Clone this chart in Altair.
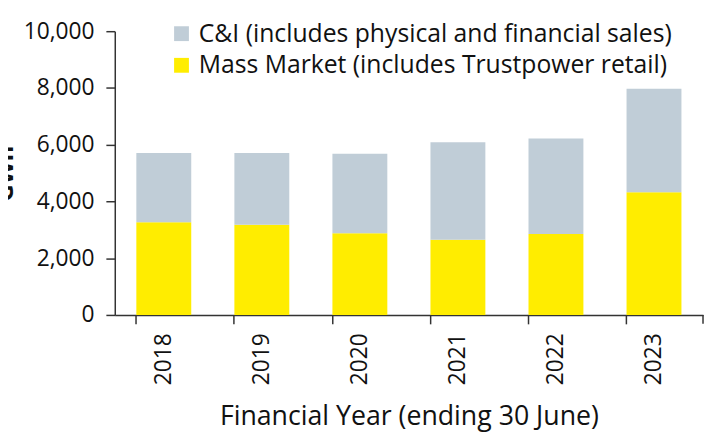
import altair as alt
import pandas as pd

years = ["2018", "2019", "2020", "2021", "2022", "2023"]
mass_market = [3270, 3180, 2880, 2650, 2850, 4320]
c_and_i = [2440, 2530, 2800, 3440, 3370, 3650]
series_names = ["C&I (includes physical and financial sales)",
                "Mass Market (includes Trustpower retail)"]
series_colors = ["#C0CDD7", "#FFED00"]

rows = []
for y, m, c in zip(years, mass_market, c_and_i):
    rows.append({"year": y, "series": series_names[1], "value": m, "ord": 0})
    rows.append({"year": y, "series": series_names[0], "value": c, "ord": 1})
df = pd.DataFrame(rows)

FONT = "Open Sans"

bars = alt.Chart(df).mark_bar().encode(
    x=alt.X("year:N", sort=years,
            scale=alt.Scale(paddingInner=0.44, paddingOuter=0.22),
            axis=alt.Axis(title="Financial Year (ending 30 June)", labelAngle=-90,
                          labelFontSize=23, titleFontSize=27, titleFontWeight="normal",
                          labelPadding=9, titlePadding=19, tickSize=9, bandPosition=0,
                          domainColor="#333333", tickColor="#333333", domainWidth=1.5,
                          tickWidth=1.5, labelColor="#111111", titleColor="#111111")),
    y=alt.Y("value:Q", stack="zero",
            scale=alt.Scale(domain=[0, 10000], nice=False),
            axis=alt.Axis(title="GWh", values=[0, 2000, 4000, 6000, 8000, 10000],
                          format=",d", grid=False, labelFontSize=23, titleFontSize=24,
                          titleFontWeight="bold", titleX=-98, tickSize=9,
                          labelPadding=12, domainColor="#333333", tickColor="#333333",
                          domainWidth=1.5, tickWidth=1.5, labelColor="#111111",
                          titleColor="#111111")),
    color=alt.Color("series:N", sort=series_names,
                    scale=alt.Scale(domain=series_names, range=series_colors),
                    legend=alt.Legend(title=None, orient="none", legendX=55, legendY=-10,
                                      labelFontSize=25, symbolType="square",
                                      symbolSize=225, symbolStrokeWidth=0,
                                      rowPadding=6, labelOffset=5, labelColor="#111111",
                                      labelLimit=600)),
    order=alt.Order("ord:Q"),
)

end_tick = alt.Chart(pd.DataFrame({"a": [0]})).mark_rule(color="#333333", strokeWidth=1.5).encode(
    x=alt.value(595), y=alt.value(287), y2=alt.value(296)
)

chart = alt.layer(bars, end_tick).properties(
    width=595, height=287,
    autosize=alt.AutoSizeParams(type="none"),
    padding={"left": 108, "top": 21, "right": 1, "bottom": 121},
).configure(font=FONT).configure_view(stroke=None)

chart.save("out.html", embed_options={"renderer": "svg", "actions": False})
